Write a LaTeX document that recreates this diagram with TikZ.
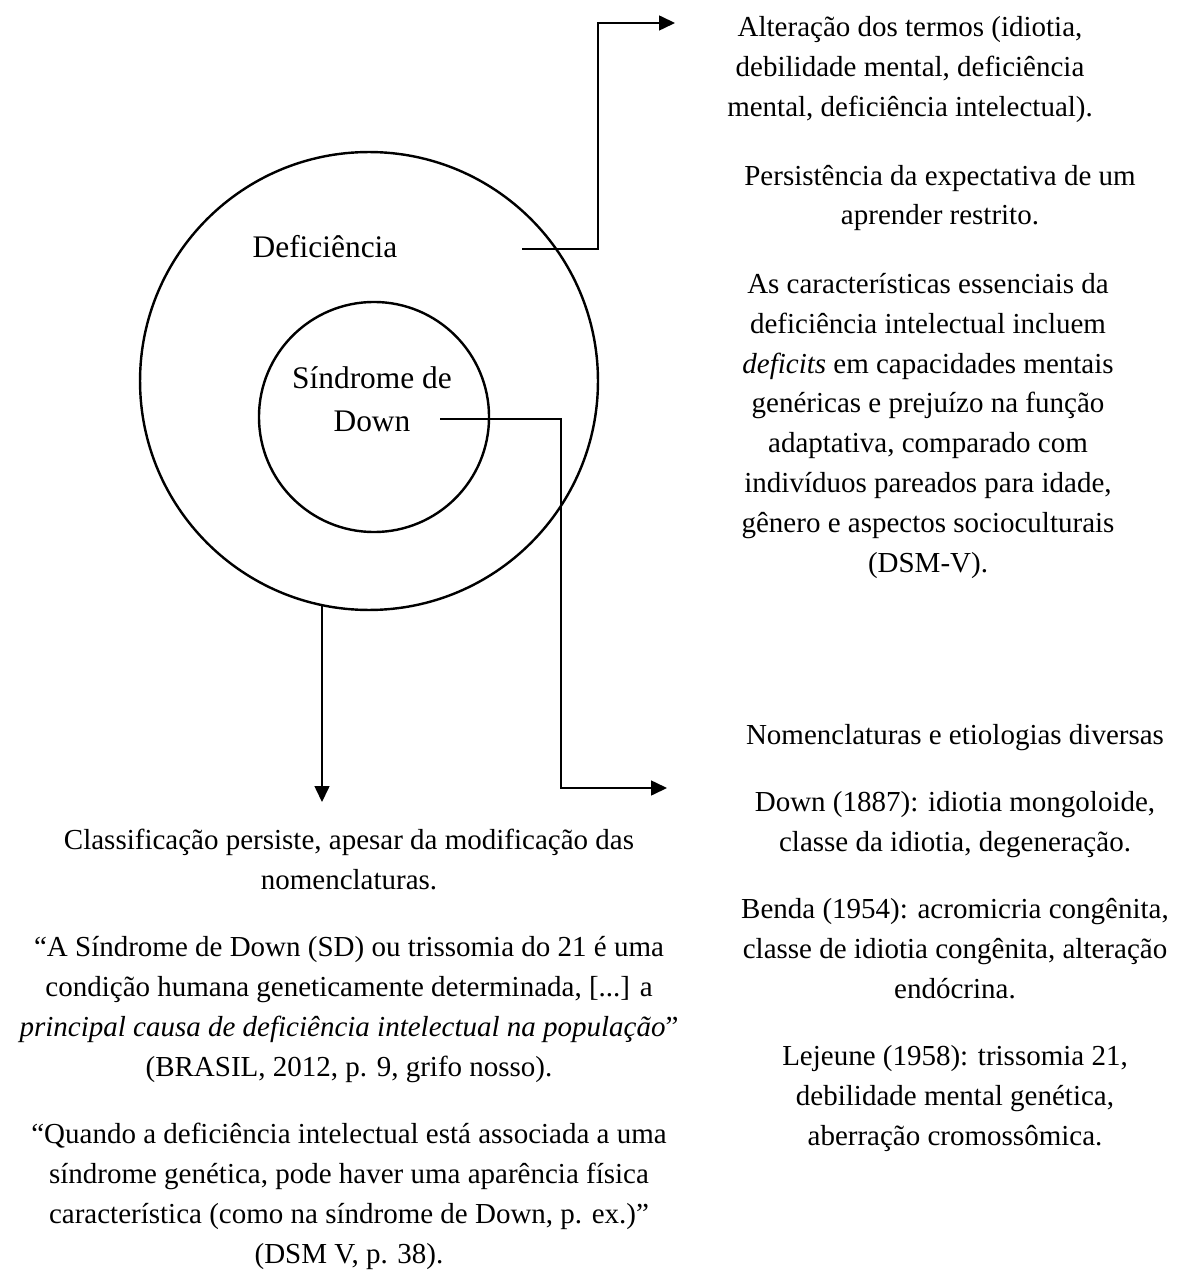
\documentclass[tikz,border=0pt]{standalone}
\usepackage{fontspec}
\setmainfont{Liberation Serif}
\usepackage{tikz}
\usetikzlibrary{
  arrows.meta,
  positioning
}

\begin{document}
\begin{tikzpicture}[x=0.4138pt, y=-0.4138pt,
    ring/.style={circle, draw, line width=1pt, inner sep=0pt},
    txt/.style={align=center, inner sep=0pt, font=\fontsize{12}{16.55}\selectfont},
    ringtxt/.style={align=center, inner sep=0pt, font=\fontsize{13}{17.9}\selectfont},
    link/.style={line width=0.6pt, -{Triangle[length=6.6pt, width=6.2pt]}}]
  \useasboundingbox (0,0) rectangle (1180,1273);

  % the two circles
  \node[ring, minimum size=189.5pt] (defic) at (369,381) {};
  \node[ring, minimum size=95.2pt] (sindrome) at (374,417) {};
  \node[ringtxt] (deflabel) at (325,247) {Deficiência};
  \node[ringtxt] (sdlabel) at (372,399) {Síndrome de\\Down};

  % texts, top right
  \node[txt] (termos) at (910,70) {
    Alteração dos termos (idiotia,\\
    debilidade mental, deficiência\\
    mental, deficiência intelectual).
  };
  \node[txt] (expect) at (940,198) {
    Persistência da expectativa de um\\
    aprender restrito.
  };
  \node[txt] (dsm) at (928,426) {
    As características essenciais da\\
    deficiência intelectual incluem\\
    \textit{deficits} em capacidades mentais\\
    genéricas e prejuízo na função\\
    adaptativa, comparado com\\
    indivíduos pareados para idade,\\
    gênero e aspectos socioculturais\\
    (DSM-V).
  };

  % texts, bottom
  \node[txt] (nomencl) at (955,938) {
    Nomenclaturas e etiologias diversas\\[11.2pt]
    Down (1887): idiotia mongoloide,\\
    classe da idiotia, degeneração.\\[11.2pt]
    Benda (1954): acromicria congênita,\\
    classe de idiotia congênita, alteração\\
    endócrina.\\[11.2pt]
    Lejeune (1958): trissomia 21,\\
    debilidade mental genética,\\
    aberração cromossômica.
  };
  \node[txt] (classif) at (349,1049) {
    Classificação persiste, apesar da modificação das\\
    nomenclaturas.\\[11.2pt]
    “A Síndrome de Down (SD) ou trissomia do 21 é uma\\
    condição humana geneticamente determinada, [...] a\\
    \textit{principal causa de deficiência intelectual na população}”\\
    (BRASIL, 2012, p. 9, grifo nosso).\\[11.2pt]
    “Quando a deficiência intelectual está associada a uma\\
    síndrome genética, pode haver uma aparência física\\
    característica (como na síndrome de Down, p. ex.)”\\
    (DSM V, p. 38).
  };

  % connectors
  \coordinate (defout) at (522,249);
  \coordinate (termosin) at (675,23);
  \draw[link] (defout) -- ++(76,0) |- (termosin);

  \coordinate (sdout) at (440,419);
  \coordinate (nomenclin) at (667,788);
  \draw[link] (sdout) -- ++(121,0) |- (nomenclin);

  \coordinate (ringout) at (322,605);
  \coordinate (classifin) at (322,802);
  \draw[link] (ringout) -- (classifin);
\end{tikzpicture}
\end{document}
